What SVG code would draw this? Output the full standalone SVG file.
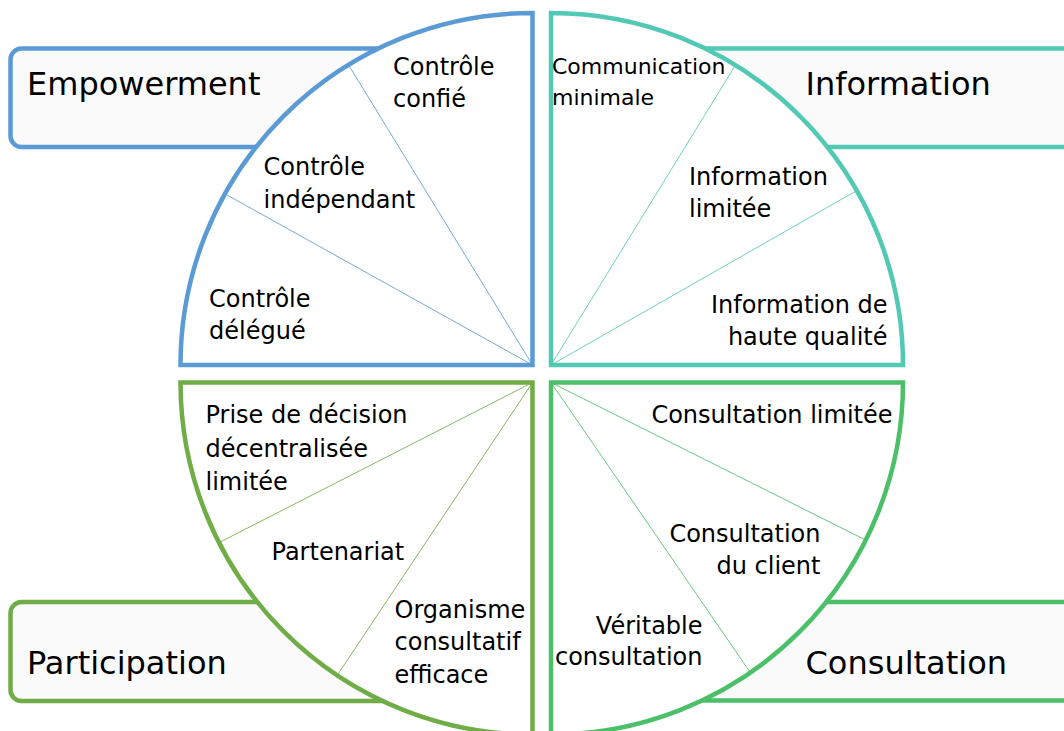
<svg xmlns="http://www.w3.org/2000/svg" width="1064" height="731" viewBox="0 0 1064 731">
<style>
.box{fill:#FAFAFA;stroke-width:4.5}
.q{fill:#FFFFFF;stroke-width:4.5;stroke-linejoin:miter}
.title{font-family:"DejaVu Sans","Verdana",sans-serif;font-size:32px;fill:#000}
.lbl{font-family:"DejaVu Sans","Verdana",sans-serif;font-size:24px;fill:#000}
.sm{font-size:22px}
.end{text-anchor:end}
.blue{stroke:#5B9BD5}
.teal{stroke:#52C9B4}
.lgreen{stroke:#70AD47}
.green{stroke:#4CC068}
.spoke{stroke-width:1;fill:none;opacity:0.85}
</style>
<rect width="1064" height="731" fill="#FFFFFF"/>

<g id="box-empowerment">
<rect class="box blue" x="10.5" y="48.5" width="440" height="98.5" rx="11"/>
<text class="title" x="27" y="95">Empowerment</text>
</g>
<g id="box-information">
<rect class="box teal" x="640" y="48.5" width="440" height="98.5" rx="11"/>
<text class="title" x="805.5" y="95">Information</text>
</g>
<g id="box-participation">
<rect class="box lgreen" x="10.5" y="602" width="460" height="99" rx="11"/>
<text class="title" x="27" y="673.5">Participation</text>
</g>
<g id="box-consultation">
<rect class="box green" x="640" y="602" width="440" height="98.5" rx="11"/>
<text class="title" x="805.5" y="673.5">Consultation</text>
</g>

<g id="quadrant-empowerment">
<path class="q blue" d="M532.5 365 L180.5 365 A352 352 0 0 1 532.5 13 Z"/>
<text class="lbl" x="393" y="75">Contrôle<tspan x="393" y="107">confié</tspan></text>
<text class="lbl" x="263.5" y="175">Contrôle<tspan x="263.5" y="208">indépendant</tspan></text>
<text class="lbl" x="209" y="307">Contrôle<tspan x="209" y="339">délégué</tspan></text>
</g>

<g id="quadrant-information">
<path class="q teal" d="M551 365 L551 13 A352 352 0 0 1 903 365 Z"/>
<text class="lbl sm" x="552" y="74">Communication<tspan x="552" y="105">minimale</tspan></text>
<text class="lbl" x="689" y="185">Information<tspan x="689" y="217">limitée</tspan></text>
<text class="lbl end" x="887.5" y="313">Information de<tspan x="887.5" y="345">haute qualité</tspan></text>
</g>

<g id="quadrant-participation">
<path class="q lgreen" d="M180.5 382.5 L532.5 382.5 L532.5 734.5 A352 352 0 0 1 180.5 382.5 Z"/>
<text class="lbl" x="205.5" y="423">Prise de décision<tspan x="205.5" y="456.5">décentralisée</tspan><tspan x="205.5" y="490">limitée</tspan></text>
<text class="lbl" x="271.5" y="560">Partenariat</text>
<text class="lbl" x="394.5" y="618">Organisme<tspan x="394.5" y="650">consultatif</tspan><tspan x="394.5" y="683">efficace</tspan></text>
</g>

<g id="quadrant-consultation">
<path class="q green" d="M551 382.5 L903 382.5 A352 352 0 0 1 551 734.5 Z"/>
<text class="lbl end" x="892.5" y="423">Consultation limitée</text>
<text class="lbl end" x="820.5" y="541.5">Consultation<tspan x="820.5" y="573.5">du client</tspan></text>
<text class="lbl end" x="702.5" y="633.5">Véritable<tspan x="702.5" y="665">consultation</tspan></text>
</g>

<g id="connectors">
<line class="spoke blue" x1="532.5" y1="365" x2="226.7" y2="194.8"/>
<line class="spoke blue" x1="532.5" y1="365" x2="349.6" y2="66.6"/>
<line class="spoke teal" x1="551" y1="365" x2="855" y2="191.6"/>
<line class="spoke teal" x1="551" y1="365" x2="734.4" y2="66.9"/>
<line class="spoke lgreen" x1="532.5" y1="382.5" x2="220.8" y2="541.7"/>
<line class="spoke lgreen" x1="532.5" y1="382.5" x2="338.3" y2="673.7"/>
<line class="spoke green" x1="551" y1="382.5" x2="864" y2="539.2"/>
<line class="spoke green" x1="551" y1="382.5" x2="749.2" y2="670.9"/>
</g>
</svg>
